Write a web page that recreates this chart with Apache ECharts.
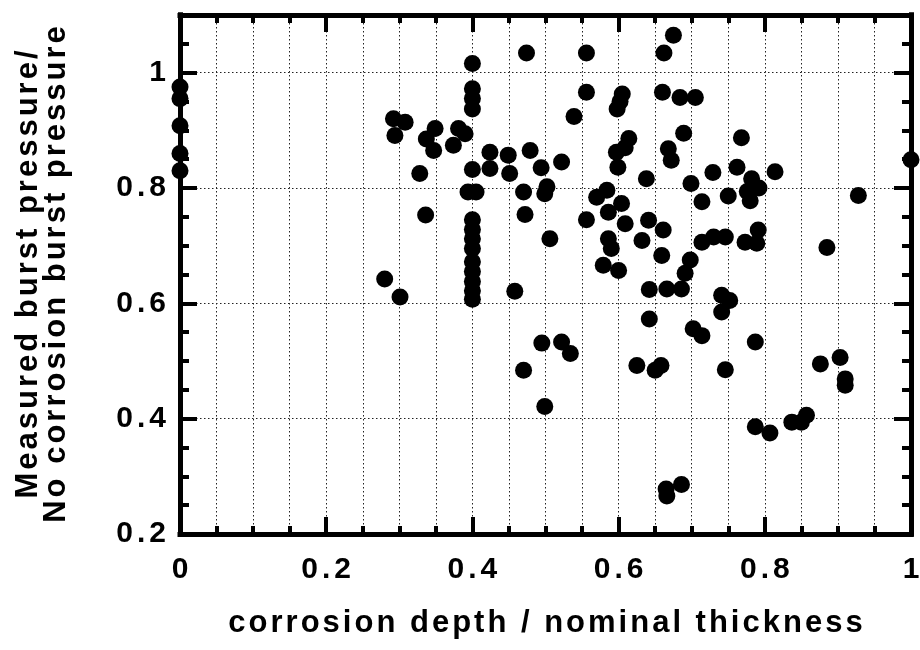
<!DOCTYPE html>
<html>
<head>
<meta charset="utf-8">
<script src="https://cdn.jsdelivr.net/npm/echarts@6/dist/echarts.min.js"></script>
<style>
  html, body { margin: 0; padding: 0; background: #fff; }
  #chart { width: 920px; height: 650px; }
</style>
</head>
<body>
<div id="chart"></div>
<script>
// Corrosion depth ratio (d/t) of each burst test
const depth = [
  0, 0, 0, 0, 0,
  0.280, 0.301, 0.292, 0.308, 0.294, 0.328, 0.336,
  0.349, 0.337, 0.347, 0.381, 0.390, 0.374,
  0.400, 0.400, 0.400, 0.400, 0.400, 0.394, 0.405,
  0.400, 0.400, 0.400, 0.400, 0.400, 0.400, 0.400, 0.400, 0.400,
  0.424, 0.424, 0.449, 0.451, 0.474, 0.479, 0.470, 0.472, 0.458, 0.470,
  0.494, 0.502, 0.499, 0.506, 0.495, 0.499,
  0.522, 0.522, 0.534, 0.539, 0.556, 0.556, 0.556, 0.570, 0.584,
  0.586, 0.604, 0.609, 0.586, 0.590, 0.579, 0.600,
  0.605, 0.602, 0.598, 0.614, 0.609, 0.597, 0.599,
  0.638, 0.641, 0.632, 0.661, 0.659, 0.642, 0.642, 0.625, 0.650, 0.658,
  0.662, 0.675, 0.660, 0.684, 0.705, 0.689, 0.668, 0.672,
  0.699, 0.714, 0.729, 0.762, 0.768, 0.750,
  0.782, 0.792, 0.776, 0.780, 0.814, 0.928, 1.000,
  0.714, 0.730, 0.746, 0.773, 0.791, 0.789, 0.885,
  0.698, 0.691, 0.666, 0.686, 0.741, 0.752, 0.741,
  0.702, 0.714, 0.787, 0.746, 0.876, 0.903, 0.910, 0.910,
  0.787, 0.807, 0.837, 0.850, 0.857,
  0.665, 0.666, 0.686
];

// Measured burst pressure / no-corrosion burst pressure, same order
const ratio = [
  0.975, 0.955, 0.908, 0.860, 0.830,
  0.642, 0.611, 0.920, 0.914, 0.891, 0.825, 0.753,
  0.903, 0.885, 0.865, 0.903, 0.894, 0.874,
  1.016, 0.972, 0.955, 0.937, 0.832, 0.793, 0.793,
  0.745, 0.728, 0.712, 0.695, 0.672, 0.655, 0.638, 0.622, 0.607,
  0.862, 0.834, 0.857, 0.825, 1.034, 0.865, 0.793, 0.754, 0.621, 0.484,
  0.835, 0.802, 0.790, 0.712, 0.531, 0.421,
  0.845, 0.533, 0.513, 0.924, 1.034, 0.966, 0.745, 0.784, 0.796,
  0.758, 0.773, 0.738, 0.712, 0.695, 0.666, 0.657,
  0.963, 0.950, 0.937, 0.886, 0.870, 0.862, 0.836,
  0.816, 0.744, 0.709, 0.727, 0.683, 0.624, 0.573, 0.492, 0.484, 0.492,
  1.034, 1.065, 0.966, 0.957, 0.957, 0.895, 0.868, 0.848,
  0.808, 0.776, 0.827, 0.836, 0.887, 0.786,
  0.816, 0.800, 0.794, 0.778, 0.828, 0.787, 0.849,
  0.706, 0.715, 0.715, 0.706, 0.727, 0.704, 0.697,
  0.675, 0.652, 0.625, 0.625, 0.614, 0.605, 0.585,
  0.556, 0.544, 0.533, 0.485, 0.495, 0.506, 0.469, 0.458,
  0.386, 0.375, 0.394, 0.394, 0.406,
  0.278, 0.266, 0.286
];

const xTicks = [0, 0.2, 0.4, 0.6, 0.8, 1];
const yTicks = [0.2, 0.4, 0.6, 0.8, 1];
const xTitle = 'corrosion depth / nominal thickness';
const yTitleLines = ['Measured burst pressure/', 'No corrosion burst pressure'];

const FONT = '"Liberation Sans", Arial, Helvetica, sans-serif';
const INK = '#000';

// tracked lettering: every character becomes its own rich-text token
function tracked(str, key) {
  return str.split('').map(ch => '{' + key + '|' + ch + '}').join('');
}

// tick label text, with the decimal point spaced out
function tickText(v) {
  const s = Math.abs(v - Math.round(v)) < 1e-9 ? String(Math.round(v)) : v.toFixed(1);
  if (s.indexOf('.') < 0) return '{n|' + s + '}';
  const parts = s.split('.');
  return '{n|' + parts[0] + '}{d|.}{n|' + parts[1] + '}';
}
const labelRich = {
  n: { fontFamily: FONT, fontWeight: 'bold', fontSize: 30, color: INK },
  d: { fontFamily: FONT, fontWeight: 'bold', fontSize: 30, color: INK, padding: [0, 4, 0, 4] }
};
const titleRich = {
  c: { fontFamily: FONT, fontWeight: 'bold', fontSize: 31, color: INK, padding: [0, 1.5, 0, 1.5] }
};

const gridDots = { color: '#222', width: 1, type: [1.5, 2.5] };
const frameLine = { show: true, onZero: false, lineStyle: { color: INK, width: 5, cap: 'square' } };

function xAxisDef(pos, main) {
  return {
    type: 'value', position: pos, min: 0, max: 1, interval: 0.2,
    axisLine: frameLine,
    axisTick: { show: true, inside: true, length: 17, lineStyle: { color: INK, width: 4 } },
    minorTick: { show: true, splitNumber: 4, length: 8, lineStyle: { color: INK, width: 4 } },
    splitLine: { show: main, lineStyle: gridDots },
    minorSplitLine: { show: main, lineStyle: gridDots },
    axisLabel: main ? {
      show: true, margin: 21, fontSize: 30, fontWeight: 'bold', fontFamily: FONT, color: INK,
      formatter: v => xTicks.some(t => Math.abs(t - v) < 1e-9) ? tickText(v) : '',
      rich: labelRich
    } : { show: false },
    name: main ? tracked(xTitle, 'c') : '',
    nameLocation: 'middle', nameGap: 74,
    nameTextStyle: { fontFamily: FONT, fontWeight: 'bold', fontSize: 31, color: INK, rich: titleRich }
  };
}

function yAxisDef(pos, step, tickLen, main) {
  return {
    type: 'value', position: pos, min: 0.2, max: 1.1, interval: step,
    axisLine: frameLine,
    axisTick: { show: true, inside: true, length: tickLen, lineStyle: { color: INK, width: 4 } },
    splitLine: { show: main, lineStyle: gridDots },
    axisLabel: main ? {
      show: true, margin: 14, fontSize: 30, fontWeight: 'bold', fontFamily: FONT, color: INK,
      formatter: v => yTicks.some(t => Math.abs(t - v) < 1e-9) ? tickText(v) : '',
      rich: labelRich
    } : { show: false },
    name: main ? yTitleLines.map(l => tracked(l, 'c')).join('\n') : '',
    nameLocation: 'middle', nameRotate: 90, nameGap: 110,
    nameTextStyle: { fontFamily: FONT, fontWeight: 'bold', fontSize: 31, lineHeight: 28, color: INK, rich: titleRich }
  };
}

const chart = echarts.init(document.getElementById('chart'), null, { renderer: 'canvas' });
chart.setOption({
  animation: false,
  backgroundColor: '#fff',
  grid: { left: 180, right: 9, top: 15, bottom: 116, containLabel: false, outerBoundsMode: 'none' },
  xAxis: [xAxisDef('bottom', true), xAxisDef('top', false)],
  yAxis: [
    yAxisDef('left', 0.2, 17, true),
    yAxisDef('left', 0.05, 9, false),
    yAxisDef('right', 0.2, 17, false),
    yAxisDef('right', 0.05, 9, false)
  ],
  series: [{
    type: 'scatter',
    xAxisIndex: 0, yAxisIndex: 0,
    symbol: 'circle', symbolSize: 17,
    clip: false,
    itemStyle: { color: INK, opacity: 1 },
    data: depth.map((d, i) => [d, ratio[i]]),
    z: 5
  }]
});
</script>
</body>
</html>
